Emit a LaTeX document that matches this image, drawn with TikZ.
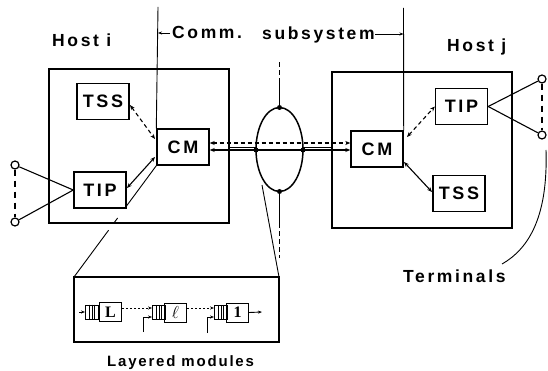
\documentclass[tikz,border=0pt]{standalone}
\usepackage{fontspec}
\setmainfont[LetterSpace=15]{Liberation Sans}
\newfontfamily\modfont{Liberation Serif}
\usetikzlibrary{arrows.meta,calc}
\tikzset{
  tip/.style={-{Stealth[length=5pt,width=4pt]}},
  tips/.style={{Stealth[length=5pt,width=4pt]}-{Stealth[length=5pt,width=4pt]}},
  hostbox/.style={draw,line width=1.6pt},
  unit/.style={draw,line width=1.4pt,minimum width=52pt,minimum height=36pt,inner sep=0pt,
    font=\fontsize{18}{18}\selectfont\bfseries},
  label/.style={font=\fontsize{17.5}{17.5}\selectfont\bfseries,inner sep=0pt,anchor=base west},
  link/.style={line width=1.1pt},
  dlink/.style={line width=1.1pt,dash pattern=on 4pt off 3pt},
  term/.style={circle,draw,line width=1.2pt,fill=white,minimum size=8pt,inner sep=0pt},
  dot/.style={circle,fill,minimum size=5pt,inner sep=0pt},
  queue/.style={draw,line width=0.9pt,minimum width=13pt,minimum height=14pt,inner sep=0pt},
  module/.style={draw,line width=1pt,minimum width=22pt,minimum height=19pt,inner sep=0pt,
    font=\fontsize{16}{16}\selectfont\modfont\bfseries},
  thin/.style={line width=0.9pt},
  smalltip/.style={-{Stealth[length=4pt,width=3pt]}}
}
\begin{document}
\begin{tikzpicture}[x=1pt,y=-1pt]
\useasboundingbox (0,0) rectangle (548,371);

% hosts
\draw[hostbox] (49,69) rectangle (229,223);
\draw[hostbox] (332,72) rectangle (512,228);

% units inside host i
\node[unit] (tssi) at (103,101.5) {TSS};
\node[unit] (cmi) at (183,147) {CM};
\node[unit] (tipi) at (100,190) {TIP};

% units inside host j
\node[unit] (cmj) at (377,149) {CM};
\node[unit] (tipj) at (461.5,106.5) {TIP};
\node[unit] (tssj) at (459,193.5) {TSS};

% labels
\node[label] (hosti) at (52,47) {Host i};
\node[label] (hostj) at (447,52) {Host j};
\node[label] (comm) at (172,39) {Comm.};
\node[label] (subs) at (262,40) {subsystem};
\node[label] (terms) at (403,282) {Terminals};
\node[label,font=\fontsize{15}{15}\selectfont\bfseries\addfontfeatures{LetterSpace=12}] (layer) at (107,366) {Layered modules};

% boundaries of the communication subsystem
\coordinate (bl) at (158,7);
\coordinate (br) at (403.5,8);
\draw[thin] (bl) -- (cmi.north west);
\draw[thin] (br) -- (cmj.north east);
\coordinate (ca) at (170,33);
\coordinate (cb) at (375,34);
\draw[thin,smalltip] (ca) -- (bl |- ca);
\draw[thin,smalltip] (cb) -- (br |- cb);

% transport network
\coordinate (ec) at (279.5,149.5);
\draw[line width=1.5pt] (ec) ellipse [x radius=23.5, y radius=42];
\node[dot] (et) at (279.5,107.5) {};
\node[dot] (eb) at (279.5,191.5) {};
\node[dot] (el) at (256,150) {};
\node[dot] (er) at (303,150) {};
\coordinate (up1) at (279.5,83);
\coordinate (up2) at (279.5,60);
\coordinate (dn1) at (279.5,223);
\coordinate (dn2) at (279.5,258);
\draw[line width=1.4pt] (et) -- (up1);
\draw[line width=1.4pt,dash pattern=on 5pt off 3pt] (up1) -- (up2);
\draw[line width=1.4pt] (eb) -- (dn1);
\draw[line width=1.4pt,dash pattern=on 5pt off 3pt] (dn1) -- (dn2);

% CM to CM connections
\draw[link,tips] (cmi.east |- 0,150) -- (cmj.west |- 0,150);
\draw[dlink,tips] (cmi.east |- 0,143) -- (cmj.west |- 0,143);
\draw[line width=1pt] (229,147.5) -- (el.center |- 0,147.5);
\draw[line width=1pt] (er.center |- 0,147.5) -- (332,147.5);

% host i internal connections
\coordinate (a1) at (130,105);
\coordinate (a2) at (155,139);
\draw[dlink,tips] (a1) -- (a2);
\coordinate (b1) at (127,188);
\coordinate (b2) at (155,157);
\draw[link,tips] (b1) -- (b2);

% host j internal connections
\coordinate (c1) at (407,137);
\draw[dlink,tips] (c1) -- (tipj.west);
\coordinate (d1) at (404,162);
\coordinate (d2) at (432,192);
\draw[link,tips] (d1) -- (d2);

% terminals of host i
\node[term] (t1) at (15,165) {};
\node[term] (t2) at (15,222) {};
\draw[link] (t1) -- (tipi.west);
\draw[link] (t2) -- (tipi.west);
\draw[line width=1.1pt,dash pattern=on 6pt off 5pt] (t1) -- (t2);

% terminals of host j
\node[term] (t3) at (542,79) {};
\node[term] (t4) at (542,135) {};
\draw[link] (t3) -- (tipj.east);
\draw[link] (t4) -- (tipj.east);
\draw[line width=1.1pt,dash pattern=on 6pt off 5pt] (t3) -- (t4);
\coordinate (cs) at (546,150);
\coordinate (ce) at (502,264);
\draw[thin] (cs) .. controls (548,215) and (530,248) .. (ce);

% layered modules box and zoom lines
\draw[hostbox,line width=1.3pt] (74,277) rectangle (279,342);
\coordinate (zl) at (74,277);
\coordinate (zr) at (279,277);
\draw[thin] (cmi.south west) -- ($(cmi.south west)!0.38!(zl)$);
\draw[thin] ($(cmi.south west)!0.47!(zl)$) -- ($(cmi.south west)!0.52!(zl)$);
\draw[thin] ($(cmi.south west)!0.58!(zl)$) -- (zl);
\coordinate (zs) at (262,185);
\draw[thin] (zs) -- (zr);

% modules
\node[queue] (q1) at (92,312) {};
\node[module] (m1) at (110.5,312) {L};
\node[queue] (q2) at (159,312.5) {};
\node[module,font=\fontsize{17}{17}\selectfont] (m2) at (175.5,312.5) {$\ell$};
\node[queue] (q3) at (221,312.5) {};
\node[module] (m3) at (237.5,312.5) {1};
\foreach \q in {q1,q2,q3}{
  \foreach \f in {0.3,0.5,0.7}
    \draw[line width=0.7pt] ($(\q.north west)!\f!(\q.north east)$) -- ($(\q.south west)!\f!(\q.south east)$);
}
\coordinate (in1) at (79,312);
\draw[thin,smalltip] (in1) -- (q1.west);
\draw[thin,smalltip,dash pattern=on 2pt off 2pt] (m1.east |- 0,308) -- (q2.west |- 0,308);
\draw[thin,smalltip,dash pattern=on 2pt off 2pt] (m2.east |- 0,308) -- (q3.west |- 0,308);
\coordinate (f2) at (143,332);
\coordinate (f3) at (207,333);
\draw[thin,smalltip] (f2) |- (q2.west |- 0,317);
\draw[thin,smalltip] (f3) |- (q3.west |- 0,317);
\coordinate (out) at (262,312);
\draw[thin,smalltip] (m3.east) -- (out);
\end{tikzpicture}
\end{document}
